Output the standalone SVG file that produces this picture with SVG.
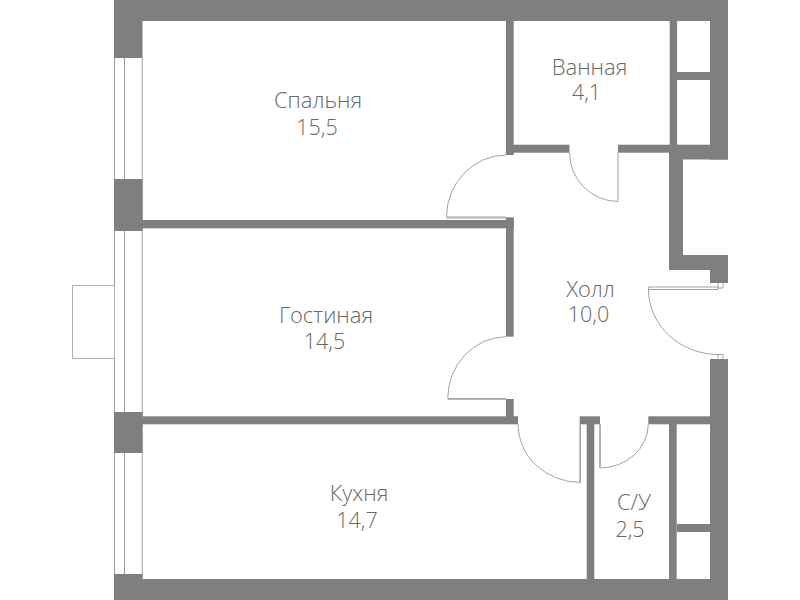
<svg xmlns="http://www.w3.org/2000/svg" width="800" height="600" viewBox="0 0 800 600">
<style>
.wall{fill:#7e807e}
.thin{fill:none;stroke:#8a8c8a;stroke-width:.8}
.frame{fill:none;stroke:#a8aaa8;stroke-width:1}
.win{fill:none;stroke:#9a9c9a;stroke-width:1}
text{font-family:"Open Sans","Noto Sans","Liberation Sans",sans-serif;font-size:21.5px;font-weight:300;fill:#666866;text-anchor:middle}
.n{font-size:22px}
</style>
<rect width="800" height="600" fill="#fff"/>
<g id="windows" class="win">
<path d="M114.5 58V580M124.5 58V580"/>
<path d="M142.3 58V580" stroke="#b0b2b0" stroke-width="1.2"/>
</g>
<g id="balcony"><rect x="72.5" y="285.5" width="42" height="73" fill="#fff" stroke="#b0b2b0" stroke-width="1"/></g>
<g id="walls" class="wall">
<rect x="114" y="0" width="614" height="21"/>
<rect x="114" y="0" width="28.5" height="58"/>
<rect x="114" y="179" width="28.5" height="52"/>
<rect x="142" y="220" width="372" height="8.3"/>
<rect x="114" y="412" width="28.5" height="41"/>
<rect x="142" y="416.3" width="376" height="8"/>
<rect x="114" y="574" width="28.5" height="26"/>
<rect x="114" y="579" width="614" height="21"/>
<rect x="506" y="21" width="7.7" height="134"/>
<rect x="506" y="217.3" width="7.7" height="11"/>
<rect x="506" y="228" width="7.7" height="108.7"/>
<rect x="506" y="399" width="7.7" height="18"/>
<rect x="513" y="144.7" width="56.5" height="8"/>
<rect x="618" y="144.7" width="92" height="8"/>
<rect x="669.7" y="21" width="7.4" height="124"/>
<rect x="677" y="72" width="33" height="8"/>
<rect x="710" y="0" width="18" height="159.5"/>
<rect x="683" y="152" width="45" height="7.5"/>
<rect x="669" y="145" width="14" height="125"/>
<rect x="669" y="255" width="59" height="15"/>
<rect x="710" y="255" width="18" height="28"/>
<rect x="710" y="359" width="18" height="241"/>
<rect x="579.7" y="416.3" width="20.3" height="8"/>
<rect x="586.7" y="424" width="7.6" height="155"/>
<rect x="648.3" y="416.3" width="62" height="8"/>
<rect x="669" y="424" width="7.7" height="155"/>
<rect x="677" y="524" width="33" height="8"/>
</g>
<g id="doors">
<path class="thin" d="M506 155A60 62 0 0 0 446.5 217H506"/>
<path class="frame" d="M446.5 218H506"/>
<path class="thin" d="M569.5 152.7A49 49 0 0 0 618 201.5V152.7"/>
<path class="thin" d="M506 336.7A59 62 0 0 0 447.7 398.5H506"/>
<path class="frame" d="M447.7 399.3H506"/>
<path class="thin" d="M518 424.3A63 58 0 0 0 580.5 482.5V424.3"/>
<path class="frame" d="M579.8 424.3V482"/>
<path class="thin" d="M599.7 424.3V468A48.6 44 0 0 0 648.3 424.3"/>
<path class="frame" d="M600.4 424.3V467"/>
<path class="thin" d="M648.5 287V289.5H718V283M723 283V288H718M648.5 287H718"/>
<path class="thin" d="M648.5 289.5A70 65 0 0 0 718 354.5H723V358.7M718 354.5V358.7"/>
</g>
<g id="labels">
<text class="n" x="318" y="108">Спальня</text>
<text x="317" y="135">15,5</text>
<text class="n" x="589.5" y="75">Ванная</text>
<text x="586.5" y="100">4,1</text>
<text class="n" x="590.5" y="297">Холл</text>
<text x="588.5" y="322">10,0</text>
<text class="n" x="326" y="323">Гостиная</text>
<text x="324.5" y="349">14,5</text>
<text class="n" x="359" y="501">Кухня</text>
<text x="357" y="528">14,7</text>
<text class="n" x="634" y="510">С/У</text>
<text x="630" y="537">2,5</text>
</g>
</svg>
